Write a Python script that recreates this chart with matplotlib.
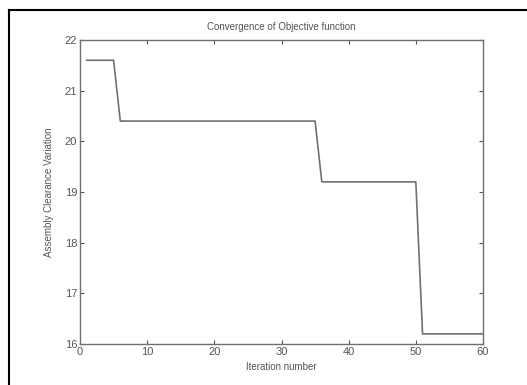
import matplotlib
matplotlib.use("Agg")
import matplotlib.pyplot as plt
from matplotlib.lines import Line2D

# Objective value at the iterations where it changes
iteration = [1, 5, 6, 35, 36, 50, 51, 60]
objective = [21.6, 21.6, 20.4, 20.4, 19.2, 19.2, 16.2, 16.2]

x_ticks = [0, 10, 20, 30, 40, 50, 60]
y_ticks = [16, 17, 18, 19, 20, 21, 22]

plt.rcParams['font.family'] = ['Liberation Sans', 'DejaVu Sans']

fig = plt.figure(figsize=(5.27, 3.85), dpi=100)
fig.patch.set_facecolor('white')
ax = fig.add_axes([80 / 527, 1 - 344 / 385, 403 / 527, 304 / 385])

ax.plot(iteration, objective, color='#707070', linewidth=1.2)

ax.set_xlim(0, 60)
ax.set_ylim(16, 22)
ax.set_xticks(x_ticks)
ax.set_yticks(y_ticks)
ax.tick_params(direction='in', top=True, right=True, length=3,
               labelsize=8, colors='#555555', pad=2)
for s in ax.spines.values():
    s.set_color('#707070')
    s.set_linewidth(1.0)

ax.set_title('Convergence of Objective function', fontsize=7, color='#555555', pad=7)
ax.set_xlabel('Iteration number', fontsize=7, color='#555555', labelpad=4)
ax.set_ylabel('Assembly Clearance Variation', fontsize=7, color='#555555', labelpad=8)

# outer frame (left and top edges)
fig.add_artist(Line2D([9 / 527, 9 / 527], [0, 1 - 10 / 385], color='black', linewidth=1.5))
fig.add_artist(Line2D([9 / 527, 1], [1 - 10 / 385, 1 - 10 / 385], color='black', linewidth=1.5))

fig.savefig('out.png', dpi=100)
